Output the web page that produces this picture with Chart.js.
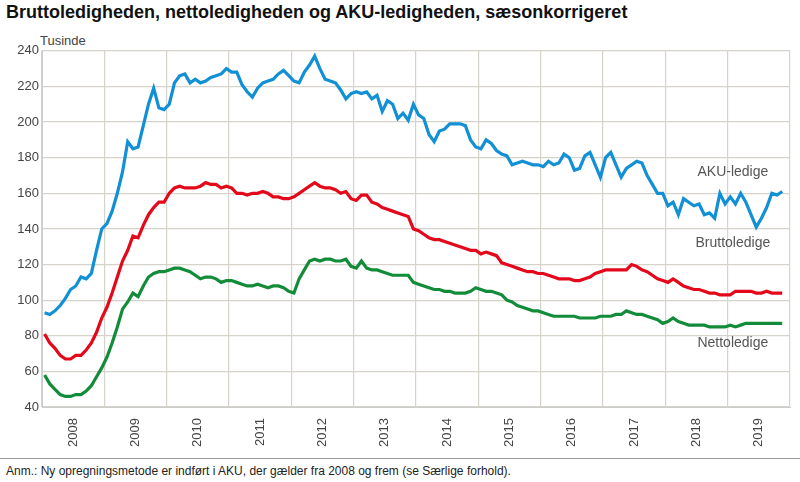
<!DOCTYPE html>
<html><head><meta charset="utf-8">
<script src="https://cdn.jsdelivr.net/npm/chart.js@4"></script>
<style>
body{margin:0;background:#fff;font-family:"Liberation Sans",Arial,sans-serif;}
#t{position:absolute;left:6px;top:2px;font-size:18px;font-weight:bold;color:#111;}
#u{position:absolute;left:40px;top:33px;font-size:13px;color:#444;}
#f{position:absolute;left:6px;top:464px;font-size:12px;color:#222;}
#ln{position:absolute;left:0;top:458px;width:800px;border-top:1px solid #999;}
#w{position:absolute;left:0;top:40px;width:800px;height:410px;}
</style></head><body>
<div id="t">Bruttoledigheden, nettoledigheden og AKU-ledigheden, sæsonkorrigeret</div>
<div id="u">Tusinde</div>
<div id="w"><canvas id="c"></canvas></div>
<div id="ln"></div>
<div id="f">Anm.: Ny opregningsmetode er indført i AKU, der gælder fra 2008 og frem (se Særlige forhold).</div>
<script>
const years=["2008","2009","2010","2011","2012","2013","2014","2015","2016","2017","2018","2019"];
const aku=[93,92,94,97,101,106,108,113,112,115,128,140,
143,150,160,172,189,185,186,198,210,219,208,207,
210,222,226,227,222,224,222,223,225,226,227,230,
228,228,221,217,214,219,222,223,224,227,229,226,
223,222,228,232,237,230,224,223,222,218,213,216,
217,216,217,213,215,206,212,210,202,205,201,210,
204,202,193,189,195,196,199,199,199,198,190,186,
185,190,188,184,182,181,176,177,178,177,176,176,
175,178,176,177,182,180,173,174,181,183,176,169,
180,183,176,169,174,176,178,177,170,165,160,160,
153,155,148,157,155,153,154,148,149,146,160,154,
158,154,160,155,148,141,146,152,160,159,161];
const brutto=[81,76,73,69,67,67,69,69,72,76,82,90,
96,104,113,122,128,136,135,142,148,152,155,155,
160,163,164,163,163,163,164,166,165,165,163,164,
163,160,160,159,160,160,161,160,158,158,157,157,
158,160,162,164,166,164,163,163,162,160,161,157,
156,159,159,155,154,152,151,150,149,148,147,140,
139,137,135,134,134,133,132,131,130,129,128,128,
126,127,126,125,121,120,119,118,117,116,116,115,
115,114,113,112,112,112,111,111,112,113,115,116,
117,117,117,117,117,120,119,117,116,114,112,111,
110,112,110,108,107,106,106,105,104,104,103,103,
103,105,105,105,105,104,104,105,104,104,104];
const netto=[58,53,50,47,46,46,47,47,49,52,57,62,
68,76,85,95,99,104,102,108,113,115,116,116,
117,118,118,117,116,114,112,113,113,112,110,111,
111,110,109,108,108,109,108,107,108,108,107,105,
104,112,117,122,123,122,123,123,122,122,123,119,
118,122,118,117,117,116,115,114,114,114,114,110,
109,108,107,106,106,105,105,104,104,104,105,107,
106,105,105,104,103,100,99,97,96,95,94,94,
93,92,91,91,91,91,91,90,90,90,90,91,
91,91,92,92,94,93,92,92,91,90,89,87,
88,90,88,87,86,86,86,86,85,85,85,85,
86,85,86,87,87,87,87,87,87,87,87];
const pts=a=>a.map((v,i)=>({x:i+0.5,y:v}));
const mk=(l,d,c)=>({label:l,data:pts(d),borderColor:c,borderWidth:3.2,pointRadius:0,tension:0,fill:false});
const labelsPlugin={id:'lbl',afterDraw(ch){const c=ch.ctx,x=ch.scales.x,y=ch.scales.y;
c.save();c.font='14px "Liberation Sans",Arial';c.fillStyle='#555';c.textAlign='center';c.textBaseline='middle';
c.fillText('AKU-ledige',x.getPixelForValue(133),y.getPixelForValue(172));
c.fillText('Bruttoledige',x.getPixelForValue(133),y.getPixelForValue(132));
c.fillText('Nettoledige',x.getPixelForValue(133),y.getPixelForValue(76));
c.restore();}};
new Chart(document.getElementById('c'),{type:'line',
data:{datasets:[mk('AKU-ledige',aku,'#1290d5'),mk('Bruttoledige',brutto,'#e3091b'),mk('Nettoledige',netto,'#138c3a')]},
options:{responsive:true,maintainAspectRatio:false,animation:false,
layout:{padding:{top:10,right:10,left:0,bottom:0}},
plugins:{legend:{display:false},tooltip:{enabled:false}},
scales:{
x:{type:'linear',min:0,max:144,
afterBuildTicks(s){s.ticks=years.map((y,i)=>({value:i*12+6}));},
ticks:{autoSkip:false,maxRotation:90,minRotation:90,color:'#444',font:{size:13},callback:(v)=>years[Math.round((v-6)/12)]},
grid:{display:false},border:{color:'#ccc'}},
xg:{type:'linear',position:'bottom',min:0,max:144,display:true,
afterBuildTicks(s){s.ticks=Array.from({length:13},(_,i)=>({value:i*12}));},
ticks:{display:false},grid:{color:'#d6d3cb',lineWidth:1.2,drawTicks:false},border:{display:false},afterFit(s){s.height=0;}},
y:{min:40,max:240,afterFit(s){s.width=42;},
ticks:{stepSize:20,color:'#444',font:{size:13}},
grid:{color:'#d6d3cb',lineWidth:1.2,drawTicks:false},border:{color:'#ccc'}}
}},plugins:[labelsPlugin]});
</script></body></html>
